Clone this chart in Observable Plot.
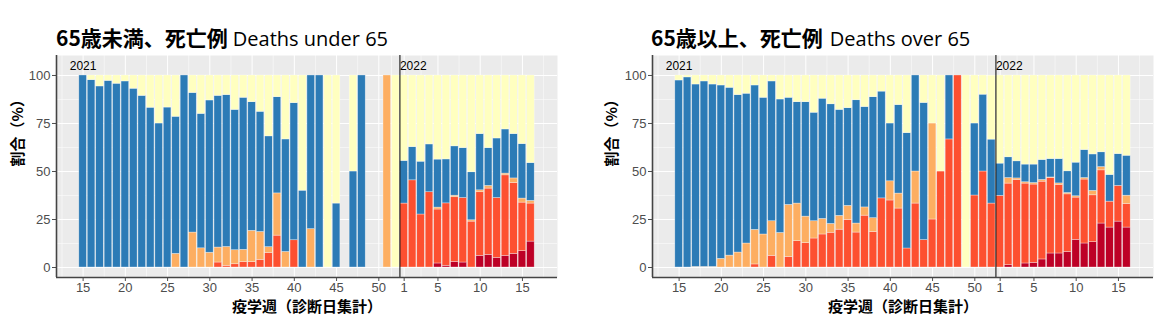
<!DOCTYPE html>
<html>
<head>
<meta charset="utf-8">
<script src="https://cdn.jsdelivr.net/npm/d3@7"></script>
<script src="https://cdn.jsdelivr.net/npm/@observablehq/plot@0.6"></script>
<style>
  html, body { margin: 0; padding: 0; background: #fff; }
  #wrap { display: flex; width: 1171px; height: 327px; overflow: hidden; }
  .panel { position: relative; height: 327px; }
  .title { position: absolute; top: 27px; white-space: nowrap; line-height: 1; }
  .title .jp { font-family: "Noto Sans CJK JP"; font-weight: bold; font-size: 21px; color: #000; }
  .title .en { font-family: "Open Sans"; font-size: 20px; color: #000; }
  .chart { position: absolute; top: 50px; left: 0; }
</style>
</head>
<body>
<div id="wrap">
  <div class="panel" id="p1" style="width:585px">
    <div class="title" style="left:56px"><span class="jp">65歳未満、死亡例</span><span class="en" style="margin-left:5px">Deaths under 65</span></div>
    <div class="chart" id="c1"></div>
  </div>
  <div class="panel" id="p2" style="width:586px">
    <div class="title" style="left:66px"><span class="jp">65歳以上、死亡例</span><span class="en" style="margin-left:7px">Deaths over 65</span></div>
    <div class="chart" id="c2"></div>
  </div>
</div>
<script>
// ---- categories (stack order bottom -> top) ----
const cats = ["3回接種", "2回接種", "1回接種", "未接種", "不明"];
const catColors = ["#bd0026", "#fd5030", "#fdae61", "#2c7bb6", "#ffffc0"];

// ---- epidemiological weeks: 2021 w15..w52, then 2022 w1..w16 ----
const weeks2021 = [15,16,17,18,19,20,21,22,23,24,25,26,27,28,29,30,31,32,33,34,35,36,37,38,39,40,41,42,43,44,45,46,47,48,49,50,51,52];
const weeks2022 = [1,2,3,4,5,6,7,8,9,10,11,12,13,14,15,16];

// ---- x-axis ticks (sequential week index) and labels ----
const xTicks = [15,20,25,30,35,40,45,50,53,57,62,67];
const xTickLabels = ["15","20","25","30","35","40","45","50","1","5","10","15"];
const xMinor = [12.5,17.5,22.5,27.5,32.5,37.5,42.5,47.5,51.5,55,59.5,64.5,69.5];
const yTicks = [0,25,50,75,100];
const yMinor = [12.5,37.5,62.5,87.5];
const yearLabels = ["2021", "2022"];
const yearBoundary = [52.5];

// ---- Under 65 (%) ----
const u65_dose3 = [0,0,0,0,0,0,0,0,0,0,0,0,0,0,0,0,0,0,0,0,0,0,0,0,0,0,0,0,0,0,0,0,0,0,0,0,0,0,
  0,0,0,0,2.1,0.9,2.9,2.6,0,6.1,6.6,5.0,6.1,7.1,8.5,13.5];
const u65_dose2 = [0,0,0,0,0,0,0,0,0,0,0,0,0,0,0,0,2.6,0.9,1.7,2.8,2.8,4.0,7.6,16.6,0,14.2,0,0,0,0,0,0,0,0,0,0,0,0,
  33.3,45.4,27.6,39.2,28.1,32.5,33.7,33.6,23.9,33.1,34.5,31.2,41.9,36.9,25.3,19.8];
const u65_dose1 = [0,0,0,0,0,0,0,0,0,0,0,7.1,0,18.2,10.0,7.7,7.8,9.8,7.3,6.4,16.3,14.5,3.0,22.0,8.1,0,0,20.0,0,0,0,0,0,0,0,0,100,0,
  0,0,0,0,1.0,0,0.8,0,0.7,1.0,1.4,0,0.9,2.4,2.1,1.4];
const u65_unvax = [100,97.6,94.3,97.2,95.7,96.9,93.1,89.4,83.2,75.0,83.3,71.4,100,72.7,70.0,79.3,79.0,79.1,73.1,79.2,67.0,62.6,57.7,50.1,58.6,71.4,40.0,80.0,100,0,33.3,0,50.0,100,0,0,0,0,
  22.2,17.3,27.5,24.9,25.0,22.9,25.7,26.0,25.0,29.3,19.7,31.0,23.0,23.1,28.4,19.7];
const u65_unknown = [0,2.4,5.7,2.8,4.3,3.1,6.9,10.6,16.8,25.0,16.7,21.5,0,9.1,20.0,13.0,10.6,10.2,17.9,11.6,13.9,18.9,31.7,11.3,33.3,14.4,60.0,0,0,100,66.7,0,50.0,0,0,0,0,100,
  44.5,37.3,44.9,35.9,43.8,43.7,36.9,37.8,50.4,30.5,37.8,32.8,28.1,30.5,35.7,45.6];

// ---- 65 and over (%) ----
const o65_dose3 = [0,0,0,0,0,0,0,0,0,0,0,0,0,0,0,0,0,0,0,0,0,0,0,0,0,0,0,0,0,0,0,0,0,0,0,0,0,0,
  0,1.2,0,2.1,2.4,4.2,7.3,7.3,8.1,14.4,12.5,13.2,22.9,20.8,23.9,20.8];
const o65_dose2 = [0,0,0,0,0,0,0,0,0,1.6,0,6.1,0,5.5,13.7,12.7,15.1,17.2,18.1,19.7,24.8,18.2,27.0,18.5,36.0,34.9,30.7,9.9,33.3,14.3,25.0,50.0,66.7,100,0,37.5,50.0,33.3,
  37.3,42.5,45.6,41.6,40.8,40.5,39.3,35.7,30.0,22.0,33.3,24.4,27.7,13.5,18.6,12.3];
const o65_dose1 = [0,0,0.3,0.3,0.3,4.5,6.2,7.8,12.5,18.0,17.2,18.0,18.0,27.1,19.6,13.8,9.0,8.1,4.6,7.2,7.3,4.7,4.3,7.2,0,10.0,7.8,0,16.7,0,50.0,0,0,0,0,0,0,0,
  0,2.9,0.8,0.7,0.8,0.9,0.3,0.8,0.7,0.7,0.8,2.3,1.7,0,0,4.3];
const o65_unvax = [97.4,99.0,95.0,96.6,95.0,90.3,87.4,82.0,78.0,75.2,71.2,72.8,69.5,55.8,52.8,59.6,56.5,62.6,62.3,55.2,50.9,64.2,52.3,63.0,55.6,30.1,46.1,60.1,50.0,71.4,0,0,33.3,0,0,37.5,40.0,33.3,
  16.8,10.8,8.9,9.2,9.6,10.4,9.6,12.7,11.3,17.5,14.6,19.0,7.7,13.9,16.6,20.8];
const o65_unknown = [2.6,1.0,4.7,3.1,4.7,5.2,6.4,10.2,9.5,5.2,11.6,3.1,12.5,11.6,13.9,13.9,19.4,12.1,15.0,17.9,17.0,12.9,16.4,11.3,8.4,25.0,15.4,30.0,0,14.3,25.0,50.0,0,0,100,25.0,10.0,33.3,
  45.9,42.6,44.7,46.4,46.4,44.0,43.5,43.5,49.9,45.4,38.8,41.1,40.0,51.8,40.9,41.8];

const allWeeks = [...weeks2021, ...weeks2022];
const firstIndex = weeks2021[0];

function buildRows(series) {
  const rows = [];
  allWeeks.forEach((w, i) => {
    cats.forEach((c, k) => rows.push({pos: firstIndex + i, week: w, cat: c, value: series[k][i]}));
  });
  return rows;
}

function chart(series, width, marginLeft, marginRight, yTitleDx) {
  const rows = buildRows(series);
  const xDomain = [11.85, 71.15];
  const yDomain = [-5.2, 110.4];
  return Plot.plot({
    width, height: 277,
    marginTop: 5, marginBottom: 50, marginLeft, marginRight,
    style: {fontFamily: "Liberation Sans, Arial, sans-serif", fontSize: "13px", color: "#4d4d4d", background: "transparent", overflow: "visible"},
    x: {domain: xDomain, ticks: xTicks, tickFormat: d => xTickLabels[xTicks.indexOf(d)], tickSize: 4, tickPadding: 1, label: null},
    y: {domain: yDomain, ticks: yTicks, tickSize: 4, tickPadding: 2, label: null},
    color: {domain: cats, range: catColors},
    marks: [
      Plot.frame({fill: "#ebebeb", stroke: null}),
      Plot.ruleX(xMinor, {stroke: "#fff", strokeWidth: 0.5}),
      Plot.ruleY(yMinor, {stroke: "#fff", strokeWidth: 0.5}),
      Plot.ruleX(xTicks, {stroke: "#fff", strokeWidth: 1}),
      Plot.ruleY(yTicks, {stroke: "#fff", strokeWidth: 1}),
      Plot.rectY(rows, Plot.stackY({
        x1: d => d.pos - 0.45, x2: d => d.pos + 0.45,
        y: "value", fill: "cat",
        stroke: "#fff", strokeWidth: 0.6, strokeOpacity: 0.55
      })),
      Plot.ruleX(yearBoundary, {stroke: "#000", strokeWidth: 1}),
      Plot.text([yearLabels[0]], {x: [weeks2021[0]], y: [104.7], text: d => d, fill: "#000", fontSize: 12, textAnchor: "middle"}),
      Plot.text([yearLabels[1]], {x: yearBoundary, y: [104.7], text: d => d, fill: "#000", fontSize: 12, textAnchor: "start"}),
      Plot.ruleX([xDomain[0]], {stroke: "#444", strokeWidth: 1.6}),
      Plot.ruleY([yDomain[0]], {stroke: "#444", strokeWidth: 1.6}),
      Plot.text(["疫学週（診断日集計）"], {text: d => d, frameAnchor: "bottom", dy: 34, fontWeight: "bold", fontSize: 15, fill: "#000", fontFamily: "Noto Sans CJK JP"}),
      Plot.text(["割合（%）"], {text: d => d, frameAnchor: "left", dx: yTitleDx, rotate: -90, fontWeight: "bold", fontSize: 15, fill: "#000", fontFamily: "Noto Sans CJK JP"})
    ]
  });
}

document.getElementById("c1").appendChild(
  chart([u65_dose3, u65_dose2, u65_dose1, u65_unvax, u65_unknown], 585, 56, 28, -38));
document.getElementById("c2").appendChild(
  chart([o65_dose3, o65_dose2, o65_dose1, o65_unvax, o65_unknown], 586, 67, 18, -40));
</script>
</body>
</html>
